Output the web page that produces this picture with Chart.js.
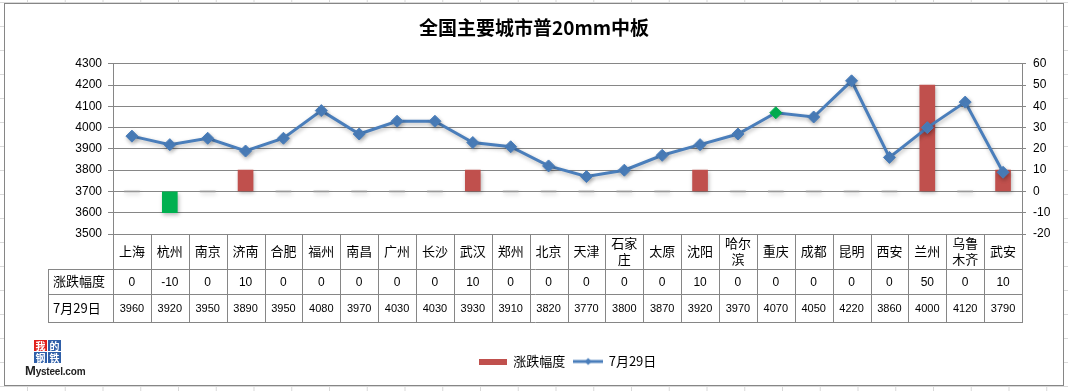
<!DOCTYPE html>
<html><head><meta charset="utf-8">
<script src="https://cdn.jsdelivr.net/npm/chart.js@4.4.1/dist/chart.umd.min.js"></script>
<style>
html,body{margin:0;padding:0;width:1068px;height:391px;overflow:hidden;background:#fff;}
body{
  background-image:linear-gradient(to right,#d9d9d9 1px,transparent 1px),linear-gradient(to bottom,#d9d9d9 1px,transparent 1px);
  background-size:37.75px 24px;background-position:27px 2px;
}
#frame{position:absolute;left:4px;top:3px;width:1058px;height:381px;border:1px solid #868686;background:#fff;}
#wrap{position:absolute;left:0;top:0;width:1058px;height:381px;}
#logo{position:absolute;left:20px;top:336px;width:70px;height:42px;font-family:"Noto Sans CJK SC",sans-serif;}
#logo .g{position:absolute;left:9px;top:0;display:grid;grid-template-columns:13px 13px;grid-template-rows:11px 11px;gap:1px;}
#logo .g span{display:block;font-size:10px;line-height:11px;text-align:center;color:#fff;background:#2f5fa8;font-weight:bold;}
#logo .g span.r{background:#e0201c;}
#logo .t{position:absolute;left:0px;top:23px;font-family:"Liberation Sans",Arial,sans-serif;font-size:10px;color:#222;white-space:nowrap;letter-spacing:-0.2px;font-weight:bold;}
#logo .t b{font-size:13px;}
</style>
</head><body>
<div id="frame"><div id="wrap"><canvas id="c"></canvas></div>
<div id="logo"><div class="g"><span class="r">我</span><span>的</span><span>钢</span><span>铁</span></div><div class="t"><b>M</b>ysteel.com</div></div>
</div>
<script>
const categories = ['上海','杭州','南京','济南','合肥','福州','南昌','广州','长沙','武汉','郑州','北京','天津','石家庄','太原','沈阳','哈尔滨','重庆','成都','昆明','西安','兰州','乌鲁木齐','武安'];
const changes = [0,-10,0,10,0,0,0,0,0,10,0,0,0,0,0,10,0,0,0,0,0,50,0,10];
const prices = [3960,3920,3950,3890,3950,4080,3970,4030,4030,3930,3910,3820,3770,3800,3870,3920,3970,4070,4050,4220,3860,4000,4120,3790];
const seriesNames = ['涨跌幅度','7月29日'];
const leftTicks = [3500,3600,3700,3800,3900,4000,4100,4200,4300];
const rightTicks = [-20,-10,0,10,20,30,40,50,60];
const highlightIndex = 17;

const RED='#C0504D', GREEN='#00B050', BLUE='#4A7EBB', GRID='#868686', ZERO='rgba(175,175,175,0.45)';
const CJK='"Noto Sans CJK SC","Noto Sans",sans-serif';
const NUM='"Liberation Sans",Arial,sans-serif';

function splitLabel(s){ return s.length>2 ? [s.slice(0,2), s.slice(2)] : [s]; }

// legend icons
const barIcon=document.createElement('canvas'); barIcon.width=28; barIcon.height=6;
{const g=barIcon.getContext('2d'); g.fillStyle=RED; g.fillRect(0,0,28,6);}
const lineIcon=document.createElement('canvas'); lineIcon.width=30; lineIcon.height=10;
{const g=lineIcon.getContext('2d'); g.strokeStyle=BLUE; g.lineWidth=3; g.beginPath(); g.moveTo(0,5); g.lineTo(30,5); g.stroke();
 g.fillStyle=BLUE; g.beginPath(); g.moveTo(15,1.5); g.lineTo(18.5,5); g.lineTo(15,8.5); g.lineTo(11.5,5); g.closePath(); g.fill();}

const shadowPlugin={
  id:'shadow',
  beforeDatasetDraw(chart,args){const c=chart.ctx;c.save();c.shadowColor='rgba(0,0,0,0.28)';c.shadowBlur=4;c.shadowOffsetX=1;c.shadowOffsetY=2;},
  afterDatasetDraw(chart){chart.ctx.restore();}
};

const tablePlugin={
  id:'table',
  afterDraw(chart){
    const ctx=chart.ctx, xs=chart.scales.x, ca=chart.chartArea;
    const n=categories.length, w=(ca.right-ca.left)/n;
    const r0=ca.bottom, r1=r0+35, r2=r1+25, r3=r2+28;
    const hdrL=43;
    const px=v=>Math.round(v)+0.5;
    ctx.save();
    ctx.strokeStyle=GRID; ctx.lineWidth=1; ctx.beginPath();
    [r1,r2,r3].forEach(y=>{ctx.moveTo(hdrL,px(y));ctx.lineTo(ca.right+1,px(y));});
    for(let i=0;i<=n;i++){const x=px(ca.left+i*w);ctx.moveTo(x,r0);ctx.lineTo(x,px(r3));}
    ctx.moveTo(px(hdrL),px(r1));ctx.lineTo(px(hdrL),px(r3));
    ctx.stroke();
    ctx.fillStyle='#000'; ctx.textAlign='center'; ctx.textBaseline='middle';
    categories.forEach((c,i)=>{
      const x=xs.getPixelForValue(i);
      const lines=splitLabel(c);
      ctx.font='13px '+CJK;
      if(lines.length===1) ctx.fillText(lines[0],x,(r0+r1)/2);
      else {ctx.fillText(lines[0],x,(r0+r1)/2-8);ctx.fillText(lines[1],x,(r0+r1)/2+8);}
      ctx.font='12px '+NUM;
      ctx.fillText(String(changes[i]),x,(r1+r2)/2+1);
      ctx.font='11px '+NUM;
      ctx.fillText(String(prices[i]),x,(r2+r3)/2+1);
    });
    ctx.textAlign='left';
    ctx.font='13px '+CJK;
    ctx.fillText(seriesNames[0],hdrL+5,(r1+r2)/2);
    ctx.fillText(seriesNames[1],hdrL+5,(r2+r3)/2);
    ctx.restore();
  }
};

new Chart(document.getElementById('c'),{
  data:{
    labels:categories,
    datasets:[
      {type:'bar',label:seriesNames[0],data:changes,yAxisID:'y2',order:1,
       backgroundColor:changes.map(v=>v<0?GREEN:(v===0?ZERO:RED)),barThickness:15,borderWidth:0,minBarLength:2},
      {type:'line',label:seriesNames[1],data:prices,yAxisID:'y',order:0,
       borderColor:BLUE,borderWidth:3,tension:0,pointStyle:'rectRot',pointRadius:6,pointHoverRadius:6,
       pointBackgroundColor:prices.map((v,i)=>i===highlightIndex?GREEN:BLUE),
       pointBorderColor:prices.map((v,i)=>i===highlightIndex?GREEN:BLUE),pointBorderWidth:1}
    ]
  },
  options:{
    responsive:true,maintainAspectRatio:false,animation:false,
    layout:{padding:{top:0,left:0,right:0,bottom:7}},
    scales:{
      x:{type:'category',offset:true,ticks:{display:false},grid:{display:false},border:{display:false},
         afterFit:s=>{s.height=112;}},
      y:{position:'left',min:leftTicks[0],max:leftTicks[leftTicks.length-1],
         afterBuildTicks:s=>{s.ticks=leftTicks.map(v=>({value:v}));},
         afterFit:s=>{s.width=108;},
         ticks:{padding:6,color:'#000',font:{family:NUM,size:12},callback:v=>String(v)},
         grid:{color:GRID,tickLength:5,lineWidth:1},border:{display:true,color:GRID}},
      y2:{position:'right',min:rightTicks[0],max:rightTicks[rightTicks.length-1],
         afterBuildTicks:s=>{s.ticks=rightTicks.map(v=>({value:v}));},
         afterFit:s=>{s.width=41;},
         ticks:{padding:7,color:'#000',font:{family:NUM,size:12},callback:v=>String(v)},
         grid:{drawOnChartArea:false,color:GRID,tickLength:4},border:{display:true,color:GRID}}
    },
    plugins:{
      title:{display:true,text:'全国主要城市普20mm中板',color:'#000',
             font:{family:CJK,size:19,weight:'bold'},padding:{top:12,bottom:25}},
      legend:{position:'bottom',fullSize:false,
        labels:{usePointStyle:true,pointStyleWidth:28,color:'#000',font:{family:CJK,size:13},padding:9,
          sort:(a,b)=>a.datasetIndex-b.datasetIndex,
          generateLabels(chart){
            const items=Chart.defaults.plugins.legend.labels.generateLabels(chart);
            items.forEach(it=>{it.pointStyle=it.datasetIndex===0?barIcon:lineIcon;});
            return items;
          }}},
      tooltip:{enabled:false}
    }
  },
  plugins:[shadowPlugin,tablePlugin]
});
</script>
</body></html>
